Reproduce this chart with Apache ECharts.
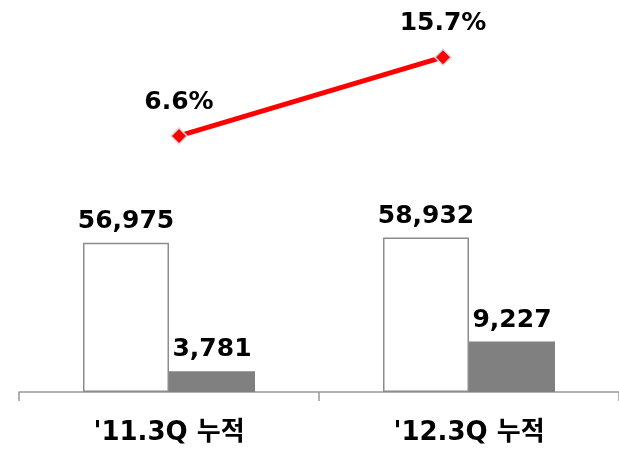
<!DOCTYPE html>
<html lang="ko">
<head>
    <meta charset="utf-8">
    <title>누적 실적</title>
    <style>
        html, body { margin: 0; padding: 0; background: #fff; }
    </style>
</head>
<body>
    <div id="main" style="width:619px;height:450px;"></div>
    <script src="https://cdn.jsdelivr.net/npm/echarts@6/dist/echarts.min.js"></script>
    <script type="text/javascript">
    // data
    var categories = ["'11.3Q 누적", "'12.3Q 누적"];
    var totalValues = [56975, 58932];
    var subValues = [3781, 9227];
    var rateValues = [6.6, 15.7];

    var fontFam = '"DejaVu Sans", "Noto Sans CJK KR", sans-serif';
    var labelStyle = {
        show: true,
        position: 'top',
        distance: 9,
        color: '#000',
        fontFamily: fontFam,
        fontWeight: 'bold',
        fontSize: 25
    };

    var myChart = echarts.init(document.getElementById('main'));

    var option = {
        backgroundColor: '#fff',
        animation: false,
        grid: [
            { left: 19, right: 0, top: 20, bottom: 58 },   // bars
            { left: 47, right: 44, top: 20, bottom: 58 }   // line
        ],
        xAxis: [{
            type: 'category',
            gridIndex: 0,
            data: categories,
            axisLine: { lineStyle: { color: '#999', width: 1.5 } },
            axisTick: { show: true, length: 9, lineStyle: { color: '#999', width: 1.5 } },
            axisLabel: {
                color: '#000',
                fontFamily: fontFam,
                fontWeight: 'bold',
                fontSize: 26,
                margin: 28
            }
        }, {
            type: 'category',
            gridIndex: 1,
            data: categories,
            show: false
        }],
        yAxis: [{
            type: 'value', gridIndex: 0, min: 0, max: 142000, show: false
        }, {
            type: 'value', gridIndex: 0, min: 0, max: 68000, show: false
        }, {
            type: 'value', gridIndex: 1, min: -23, max: 20, show: false
        }],
        series: [{
            name: 'total',
            type: 'bar',
            xAxisIndex: 0,
            yAxisIndex: 0,
            barWidth: 86,
            barGap: '0%',
            itemStyle: { color: '#fff', borderColor: '#8c8c8c', borderWidth: 1.5 },
            label: Object.assign({}, labelStyle, {
                formatter: function (p) { return p.value.toLocaleString('en-US'); }
            }),
            data: totalValues
        }, {
            name: 'sub',
            type: 'bar',
            xAxisIndex: 0,
            yAxisIndex: 1,
            barWidth: 86,
            barGap: '0%',
            itemStyle: { color: '#808080' },
            label: Object.assign({}, labelStyle, {
                formatter: function (p) { return p.value.toLocaleString('en-US'); }
            }),
            data: subValues
        }, {
            name: 'rate',
            type: 'line',
            xAxisIndex: 1,
            yAxisIndex: 2,
            symbol: 'diamond',
            symbolSize: 16,
            lineStyle: { color: '#ff0000', width: 5 },
            itemStyle: { color: '#ff0000', borderColor: '#d9d9d9', borderWidth: 1.5 },
            label: Object.assign({}, labelStyle, {
                distance: 12,
                formatter: function (p) { return p.value.toFixed(1) + '%'; }
            }),
            z: 5,
            data: rateValues
        }]
    };
    myChart.setOption(option);
    </script>
</body>
</html>
